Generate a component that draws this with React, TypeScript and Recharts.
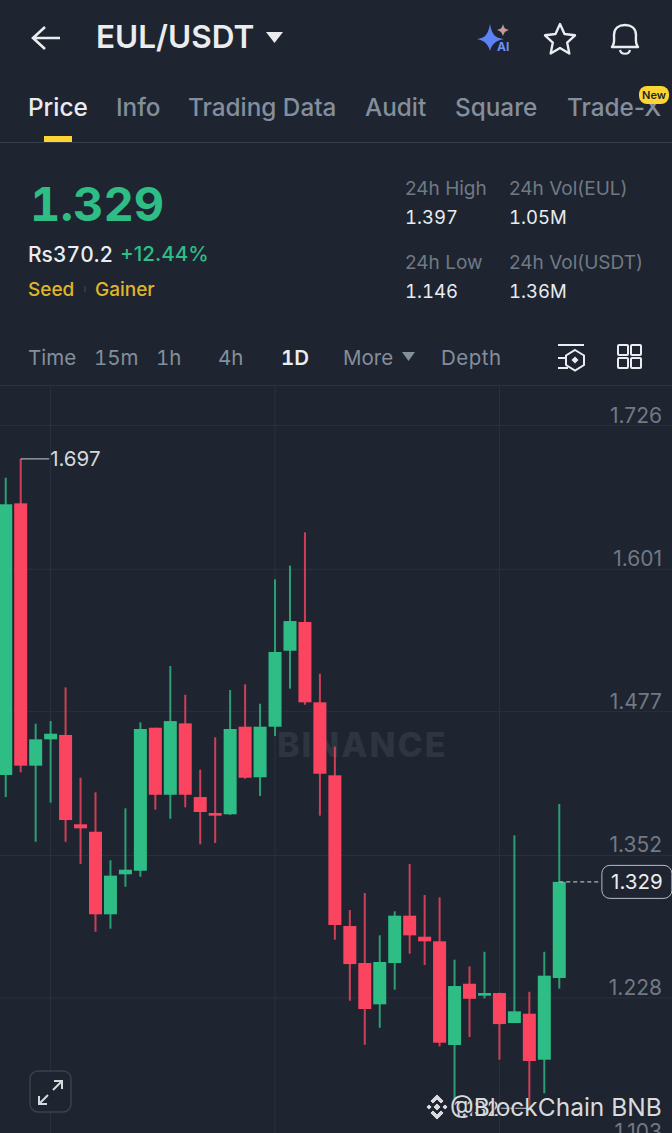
import React from "react";
import { ComposedChart, Bar, XAxis, YAxis, CartesianGrid, ReferenceLine, ReferenceDot } from "recharts";

const opens = [1.422,1.6583,1.4301,1.453,1.4568,1.3791,1.3726,1.3008,1.3356,1.3387,1.4631,1.4048,1.4669,1.4028,1.3889,1.3878,1.464,1.42,1.464,1.5301,1.5551,1.4852,1.4217,1.2906,1.2584,1.2225,1.2584,1.2996,1.2813,1.2773,1.1871,1.2404,1.23,1.2323,1.2062,1.2143,1.1743,1.2454];
const closes = [1.6575,1.4301,1.453,1.4579,1.3828,1.3756,1.3008,1.3344,1.3396,1.462,1.4048,1.4689,1.4048,1.3898,1.3866,1.462,1.4196,1.464,1.529,1.5559,1.4852,1.4231,1.2915,1.2575,1.2184,1.2593,1.2996,1.2825,1.2773,1.1891,1.2384,1.2273,1.2323,1.2053,1.2164,1.1732,1.2474,1.329];
const highs = [1.6806,1.697,1.4666,1.4689,1.4982,1.4196,1.4069,1.3478,1.393,1.4678,1.4631,1.5168,1.4918,1.4266,1.4548,1.4959,1.5009,1.484,1.5922,1.6041,1.6331,1.5101,1.4466,1.3045,1.3193,1.2825,1.3034,1.3445,1.3176,1.3156,1.2613,1.2555,1.2682,1.2326,1.3695,1.2334,1.2682,1.3968];
const lows = [1.4028,1.4243,1.3639,1.3979,1.3639,1.3445,1.2856,1.2883,1.3248,1.3335,1.3918,1.3839,1.3939,1.3617,1.3628,1.3872,1.4187,1.4037,1.4559,1.4971,1.4831,1.3866,1.2787,1.2256,1.1873,1.2021,1.2352,1.2665,1.2567,1.1859,1.1349,1.194,1.2277,1.1743,1.2062,1.132,1.1451,1.2361];
const priceTicks = [1.726, 1.601, 1.477, 1.352, 1.228, 1.103];
const gridIndexes = [3, 18, 33];
const tabs = [
  { label: "Price", x: 28, color: "#eaecef" }, { label: "Info", x: 116, color: "#848e9c" },
  { label: "Trading Data", x: 188, color: "#848e9c" }, { label: "Audit", x: 365, color: "#848e9c" },
  { label: "Square", x: 455, color: "#848e9c" }, { label: "Trade-X", x: 567, color: "#848e9c" },
];
const ranges = [
  { label: "Time", x: 28, color: "#848e9c" }, { label: "15m", x: 94, color: "#848e9c" },
  { label: "1h", x: 156, color: "#848e9c" }, { label: "4h", x: 218, color: "#848e9c" },
  { label: "1D", x: 281, color: "#eaecef" }, { label: "More", x: 343, color: "#848e9c" },
  { label: "Depth", x: 441, color: "#848e9c" },
];
const stats = [
  { label: "24h High", value: "1.397", x: 405, y: 188 }, { label: "24h Vol(EUL)", value: "1.05M", x: 509, y: 188 },
  { label: "24h Low", value: "1.146", x: 405, y: 262 }, { label: "24h Vol(USDT)", value: "1.36M", x: 509, y: 262 },
];

const data = opens.map((open, i) => ({ i, open, close: closes[i], high: highs[i], low: lows[i] }));

const BG = "#1e2530";
const GREEN = "#2ebd85";
const RED = "#fb4560";
const FONT = "Inter, 'Noto Sans', sans-serif";
const TNUM = { fontVariantNumeric: "tabular-nums" } as const;

function Candle(p: any) {
  const { x, y, width, height, payload } = p;
  const { open, close, high, low } = payload;
  const color = close >= open ? GREEN : RED;
  const k = height / (high - low);
  const top = y + (high - Math.max(open, close)) * k;
  const bottom = y + (high - Math.min(open, close)) * k;
  const cx = x + width / 2;
  return (
    <g>
      <rect x={cx - 1} y={y} width={2} height={height} fill={color} opacity={0.8} />
      <rect x={x} y={top} width={width} height={Math.max(bottom - top, 1)} fill={color} />
    </g>
  );
}

function PriceTick(p: any) {
  return (
    <text x={662} y={p.y - 10.5} textAnchor="end" dominantBaseline="central" fontFamily={FONT} fontSize={21} fill="#717985">
      {p.payload.value.toFixed(3)}
    </text>
  );
}

function Extreme(p: any) {
  return (
    <text x={p.cx} y={p.cy} dominantBaseline="central" fontFamily={FONT} fontSize={20.5} fill="#d5d8dc">{p.label}</text>
  );
}

function LastPrice(p: any) {
  return (
    <g>
      <rect x={p.cx} y={p.cy - 16.5} width={70} height={33} rx={8} fill={BG} stroke="#b7bcc3" strokeWidth={1} />
      <text x={p.cx + 35} y={p.cy} textAnchor="middle" dominantBaseline="central" fontFamily={FONT} fontSize={20.5} fill="#eaecef">1.329</text>
    </g>
  );
}

function T(p: { x: number; y: number; size: number; color: string; weight?: number; spacing?: number; shadow?: string; tnum?: boolean; children: any }) {
  return (
    <div style={{ position: "absolute", left: p.x, top: p.y, transform: "translateY(-50%)", fontFamily: FONT, fontSize: p.size, color: p.color, fontWeight: p.weight ?? 400, letterSpacing: p.spacing ?? 0, whiteSpace: "nowrap", lineHeight: 1, textShadow: p.shadow, ...(p.tnum ? TNUM : {}) }}>
      {p.children}
    </div>
  );
}

function Icons() {
  return (
    <svg width={672} height={1133} style={{ position: "absolute", left: 0, top: 0, pointerEvents: "none" }}>
      <path d="M60 38H34M45 27L33 38L45 49" fill="none" stroke="#eaecef" strokeWidth={2.6} />
      <path d="M266 32H283L274.5 43Z" fill="#eaecef" />
      <path d="M490 25C492 36 495 39 504 40C495 42 492 45 490 52C488 45 485 42 477 40C485 39 488 36 490 25Z" fill="#5c83f5" transform="translate(0,-1)" />
      <path d="M503 24C504 28 505 29 509 30C505 31 504 33 503 36C502 33 501 31 497 30C501 29 502 28 503 24Z" fill="#c79b9d" />
      <text x={497} y={51} fontFamily={FONT} fontSize={12} fontWeight={700} fill="#6f8ff5">AI</text>
      <path d="M560 24L564.5 34L575 35.3L567.2 42.6L569.3 53.5L560 48L550.7 53.5L552.8 42.6L545 35.3L555.5 34Z" fill="none" stroke="#eaecef" strokeWidth={2.4} strokeLinejoin="round" />
      <path d="M612 47C615 43 614 40 614 35C614 28 619 25 625 25C631 25 636 28 636 35C636 40 635 43 638 47Z" fill="none" stroke="#eaecef" strokeWidth={2.4} strokeLinejoin="round" />
      <path d="M620 50C621 55 629 55 630 50" fill="none" stroke="#eaecef" strokeWidth={2.2} />
      <rect x={44} y={136} width={28} height={6} fill="#fcd535" />
      <rect x={0} y={142} width={672} height={1} fill="#363c47" />
      <rect x={84.5} y={286} width={1} height={6} fill="#474d57" />
      <path d="M402 352H415L408.5 361Z" fill="#848e9c" />
      <path d="M558 345H584M558 358H568M558 368H568" stroke="#eaecef" strokeWidth={2} fill="none" />
      <path d="M575 350L584 355.5V365L575 370.5L566 365V355.5Z" fill={BG} stroke="#eaecef" strokeWidth={2} />
      <rect x={572.5} y={357.5} width={5} height={5} transform="rotate(45 575 360)" fill="#eaecef" />
      <g fill="none" stroke="#eaecef" strokeWidth={2}>
        <rect x={618} y={345} width={10} height={10} rx={1} />
        <rect x={631} y={345} width={10} height={10} rx={1} />
        <rect x={618} y={358} width={10} height={10} rx={1} />
        <rect x={631} y={358} width={10} height={10} rx={1} />
      </g>
      <rect x={0} y={385} width={672} height={1} fill="#2b323d" />
      <rect x={30} y={1071} width={41} height={41} rx={8} fill={BG} stroke="#3a414d" strokeWidth={1.5} />
      <path d="M39 1104L48 1095M39 1096V1104H47M53 1090L62 1081M54 1081H62V1089" fill="none" stroke="#d5d8dc" strokeWidth={2} />
      <g fill="#d8dade" stroke="#2b323d" strokeWidth={1}>
        <path d="M437 1094L444 1101L441 1104L437 1100L433 1104L430 1101Z" />
        <path d="M437 1120L430 1113L433 1110L437 1114L441 1110L444 1113Z" />
        <path d="M437 1103L441 1107L437 1111L433 1107Z" />
        <path d="M429 1104L432 1107L429 1110L426 1107Z" />
        <path d="M445 1104L448 1107L445 1110L442 1107Z" />
      </g>
    </svg>
  );
}

function NewBadge() {
  return (
    <div style={{ position: "absolute", left: 639, top: 86, width: 30, height: 18, borderRadius: 8, background: "#fcd535", color: "#1e2329", fontFamily: FONT, fontSize: 11, fontWeight: 600, lineHeight: "18px", textAlign: "center" }}>
      New
    </div>
  );
}

export default function App() {
  return (
    <div style={{ position: "absolute", left: 0, top: 0, width: 672, height: 1133, overflow: "hidden", background: BG }}>
      <T x={277} y={745} size={34} color="#2e3541" weight={800} spacing={2}>BINANCE</T>
      <div style={{ position: "absolute", left: 0, top: 0 }}>
        <ComposedChart width={674} height={1145} data={data} margin={{ top: 386, right: 0, bottom: 0, left: 0 }}>
          <CartesianGrid stroke="#2b323d" strokeWidth={1} verticalValues={gridIndexes} horizontalValues={priceTicks} />
          <XAxis type="number" dataKey="i" domain={[-0.382, 44.67]} ticks={gridIndexes} hide allowDataOverflow />
          <YAxis orientation="right" mirror width={2} domain={[1.1001, 1.7604]} ticks={priceTicks} interval={0} axisLine={false} tickLine={false} tick={PriceTick} allowDataOverflow />
          <Bar dataKey={(d: any) => [d.low, d.high]} barSize={13} shape={Candle} isAnimationActive={false} />
          <ReferenceLine segment={[{ x: 1, y: 1.697 }, { x: 2.9, y: 1.697 }]} stroke="#aeb3ba" strokeWidth={1.2} />
          <ReferenceDot x={2.97} y={1.697} r={0} shape={(p: any) => <Extreme {...p} label="1.697" />} />
          <ReferenceLine segment={[{ x: 33.1, y: 1.132 }, { x: 35, y: 1.132 }]} stroke="#aeb3ba" strokeWidth={1.2} />
          <ReferenceDot x={29.9} y={1.132} r={0} shape={(p: any) => <Extreme {...p} label="1.132" />} />
          <ReferenceLine segment={[{ x: 37, y: 1.329 }, { x: 39.8, y: 1.329 }]} stroke="#aeb3ba" strokeWidth={1.2} strokeDasharray="4 3" />
          <ReferenceDot x={39.85} y={1.329} r={0} shape={LastPrice} />
        </ComposedChart>
      </div>
      <Icons />
      <T x={96} y={37} size={31.5} color="#eaecef" weight={600}>EUL/USDT</T>
      {tabs.map((t) => <T key={t.label} x={t.x} y={107} size={24.3} color={t.color} weight={500}>{t.label}</T>)}
      <NewBadge />
      <T x={30} y={203} size={47} color={GREEN} weight={700} tnum>1.329</T>
      <T x={28} y={254} size={21} color="#eaecef" weight={500} tnum>Rs370.2</T>
      <T x={120} y={254} size={20.6} color={GREEN} weight={500}>+12.44%</T>
      <T x={28} y={289} size={19} color="#e0b528" weight={500}>Seed</T>
      <T x={95} y={289} size={19} color="#e0b528" weight={500}>Gainer</T>
      {stats.map((s) => (
        <React.Fragment key={s.label}>
          <T x={s.x} y={s.y} size={19} color="#717985">{s.label}</T>
          <T x={s.x} y={s.y + 29} size={18.5} color="#eaecef" tnum>{s.value}</T>
        </React.Fragment>
      ))}
      {ranges.map((r) => <T key={r.label} x={r.x} y={358} size={20.5} color={r.color} weight={r.label === "1D" ? 600 : 400} spacing={r.label === "Depth" ? 0.5 : 0} tnum>{r.label}</T>)}
      <T x={450} y={1107} size={24.5} color="#d8dade" shadow="1px 1px 1px #20262f">@BlockChain BNB</T>
    </div>
  );
}
